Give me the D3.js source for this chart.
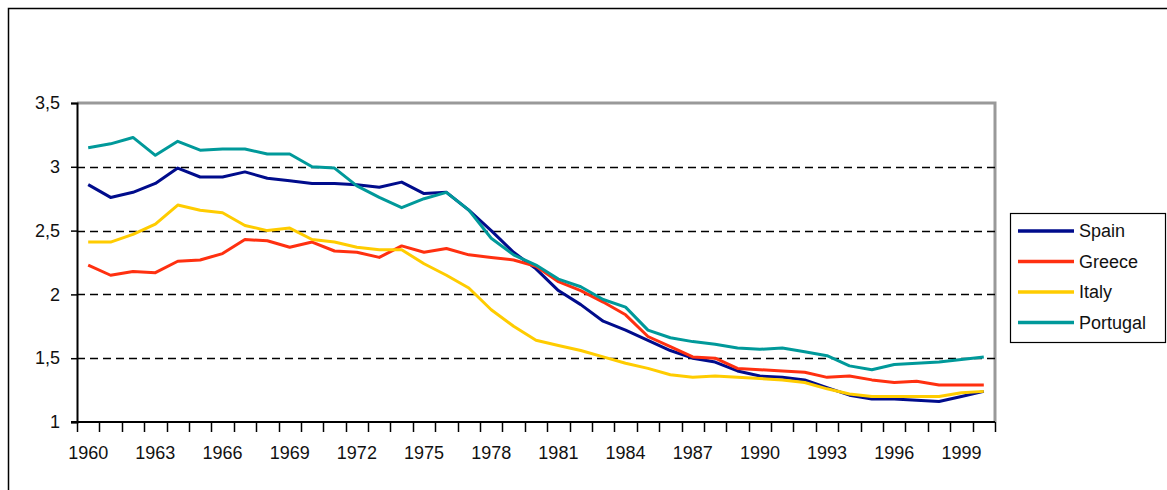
<!DOCTYPE html>
<html>
<head>
<meta charset="utf-8">
<script src="https://cdn.jsdelivr.net/npm/d3@7"></script>
<style>
  body { margin: 0; background: #fff; }
  svg { display: block; font-family: "Liberation Sans", Arial, sans-serif; }
</style>
</head>
<body>
<div id="chart"></div>
<script>
// years on the x axis
const years = d3.range(1960, 2001);
const tickYears = [1960, 1963, 1966, 1969, 1972, 1975, 1978, 1981, 1984, 1987, 1990, 1993, 1996, 1999];
const yTicks = [1, 1.5, 2, 2.5, 3, 3.5];

const spain = [2.86, 2.76, 2.80, 2.87, 2.99, 2.92, 2.92, 2.96, 2.91, 2.89, 2.87, 2.87, 2.86, 2.84, 2.88, 2.79, 2.80, 2.66, 2.50, 2.33,
  2.20, 2.03, 1.92, 1.79, 1.72, 1.64, 1.56, 1.50, 1.47, 1.40, 1.36, 1.35, 1.33, 1.27, 1.21, 1.18, 1.18, 1.17, 1.16, 1.20, 1.24];
const greece = [2.23, 2.15, 2.18, 2.17, 2.26, 2.27, 2.32, 2.43, 2.42, 2.37, 2.41, 2.34, 2.33, 2.29, 2.38, 2.33, 2.36, 2.31, 2.29, 2.27,
  2.22, 2.10, 2.03, 1.94, 1.84, 1.67, 1.59, 1.51, 1.50, 1.42, 1.41, 1.40, 1.39, 1.35, 1.36, 1.33, 1.31, 1.32, 1.29, 1.29, 1.29];
const italy = [2.41, 2.41, 2.47, 2.55, 2.70, 2.66, 2.64, 2.54, 2.50, 2.52, 2.43, 2.41, 2.37, 2.35, 2.35, 2.24, 2.15, 2.05, 1.88, 1.75,
  1.64, 1.60, 1.56, 1.51, 1.46, 1.42, 1.37, 1.35, 1.36, 1.35, 1.34, 1.33, 1.31, 1.26, 1.22, 1.20, 1.20, 1.20, 1.20, 1.23, 1.24];
const portugal = [3.15, 3.18, 3.23, 3.09, 3.20, 3.13, 3.14, 3.14, 3.10, 3.10, 3.00, 2.99, 2.85, 2.76, 2.68, 2.75, 2.80, 2.66, 2.44, 2.31,
  2.23, 2.12, 2.06, 1.96, 1.90, 1.72, 1.66, 1.63, 1.61, 1.58, 1.57, 1.58, 1.55, 1.52, 1.44, 1.41, 1.45, 1.46, 1.47, 1.49, 1.51];

const series = [
  { name: "Spain", values: spain, color: "#000c8c" },
  { name: "Greece", values: greece, color: "#ff3010" },
  { name: "Italy", values: italy, color: "#ffcc00" },
  { name: "Portugal", values: portugal, color: "#00999a" }
];

const width = 1167, height = 490;
const plot = { left: 77, right: 995, top: 103, bottom: 422 };

const svg = d3.select("#chart").append("svg")
  .attr("width", width)
  .attr("height", height);

// outer frame, clipped at the right and bottom
svg.append("path")
  .attr("d", `M8.5,${height}V8.5H${width}`)
  .attr("fill", "none")
  .attr("stroke", "#000")
  .attr("stroke-width", 1.5);

const x = d3.scaleBand()
  .domain(years)
  .range([plot.left, plot.right]);

const y = d3.scaleLinear()
  .domain([1, 3.5])
  .range([plot.bottom, plot.top]);

// plot border top and right (grey)
svg.append("path")
  .attr("d", `M${plot.left},${plot.top}H${plot.right}V${plot.bottom}`)
  .attr("fill", "none")
  .attr("stroke", "#999")
  .attr("stroke-width", 3);

// dashed grid
svg.append("g")
  .selectAll("line")
  .data(yTicks.filter(d => d > 1 && d < 3.5))
  .join("line")
  .attr("x1", plot.left)
  .attr("x2", plot.right)
  .attr("y1", d => Math.round(y(d)) + 0.5)
  .attr("y2", d => Math.round(y(d)) + 0.5)
  .attr("stroke", "#000")
  .attr("stroke-width", 1.5)
  .attr("stroke-dasharray", "8,5");

// y axis
const yAxis = svg.append("g")
  .attr("transform", `translate(${plot.left},0)`)
  .call(d3.axisLeft(y).tickValues(yTicks).tickSize(6).tickPadding(11)
    .tickFormat(d => String(d).replace(".", ",")));
yAxis.select(".domain").attr("stroke-width", 2);
yAxis.selectAll(".tick line").attr("stroke-width", 1.5);
yAxis.selectAll("text").attr("font-size", 18).attr("fill", "#111")
  .attr("font-family", "Liberation Sans, Arial, sans-serif");

// x axis: ticks on the category boundaries, labels every 3 years
const xg = svg.append("g");
xg.append("line")
  .attr("x1", plot.left - 6).attr("x2", plot.right)
  .attr("y1", plot.bottom).attr("y2", plot.bottom)
  .attr("stroke", "#000").attr("stroke-width", 2);
xg.selectAll(".tk")
  .data(years.concat([2001]))
  .join("line")
  .attr("class", "tk")
  .attr("x1", d => Math.round(d === 2001 ? plot.right : x(d)) + 0.5)
  .attr("x2", d => Math.round(d === 2001 ? plot.right : x(d)) + 0.5)
  .attr("y1", plot.bottom)
  .attr("y2", plot.bottom + 10)
  .attr("stroke", "#000")
  .attr("stroke-width", 1.5);
xg.selectAll("text")
  .data(tickYears)
  .join("text")
  .attr("x", d => x(d) + x.bandwidth() / 2)
  .attr("y", 459)
  .attr("text-anchor", "middle")
  .attr("font-size", 18)
  .attr("fill", "#111")
  .text(d => d);

// lines
const line = d3.line()
  .x((d, i) => x(years[i]) + x.bandwidth() / 2)
  .y(d => y(d));

svg.append("g")
  .selectAll("path")
  .data(series)
  .join("path")
  .attr("d", d => line(d.values))
  .attr("fill", "none")
  .attr("stroke", d => d.color)
  .attr("stroke-width", 3)
  .attr("stroke-linejoin", "round");

// legend
const legend = svg.append("g").attr("transform", "translate(1010,213)");
legend.append("rect")
  .attr("x", 0.5).attr("y", 0.5)
  .attr("width", 155).attr("height", 129)
  .attr("fill", "#fff")
  .attr("stroke", "#000")
  .attr("stroke-width", 1.2);

const item = legend.selectAll(".item")
  .data(series)
  .join("g")
  .attr("class", "item")
  .attr("transform", (d, i) => `translate(0,${18 + i * 30.5})`);
item.append("line")
  .attr("x1", 8).attr("x2", 64)
  .attr("stroke", d => d.color)
  .attr("stroke-width", 3.5);
item.append("text")
  .attr("x", 69)
  .attr("y", 6)
  .attr("font-size", 18)
  .attr("fill", "#111")
  .text(d => d.name);
</script>
</body>
</html>
